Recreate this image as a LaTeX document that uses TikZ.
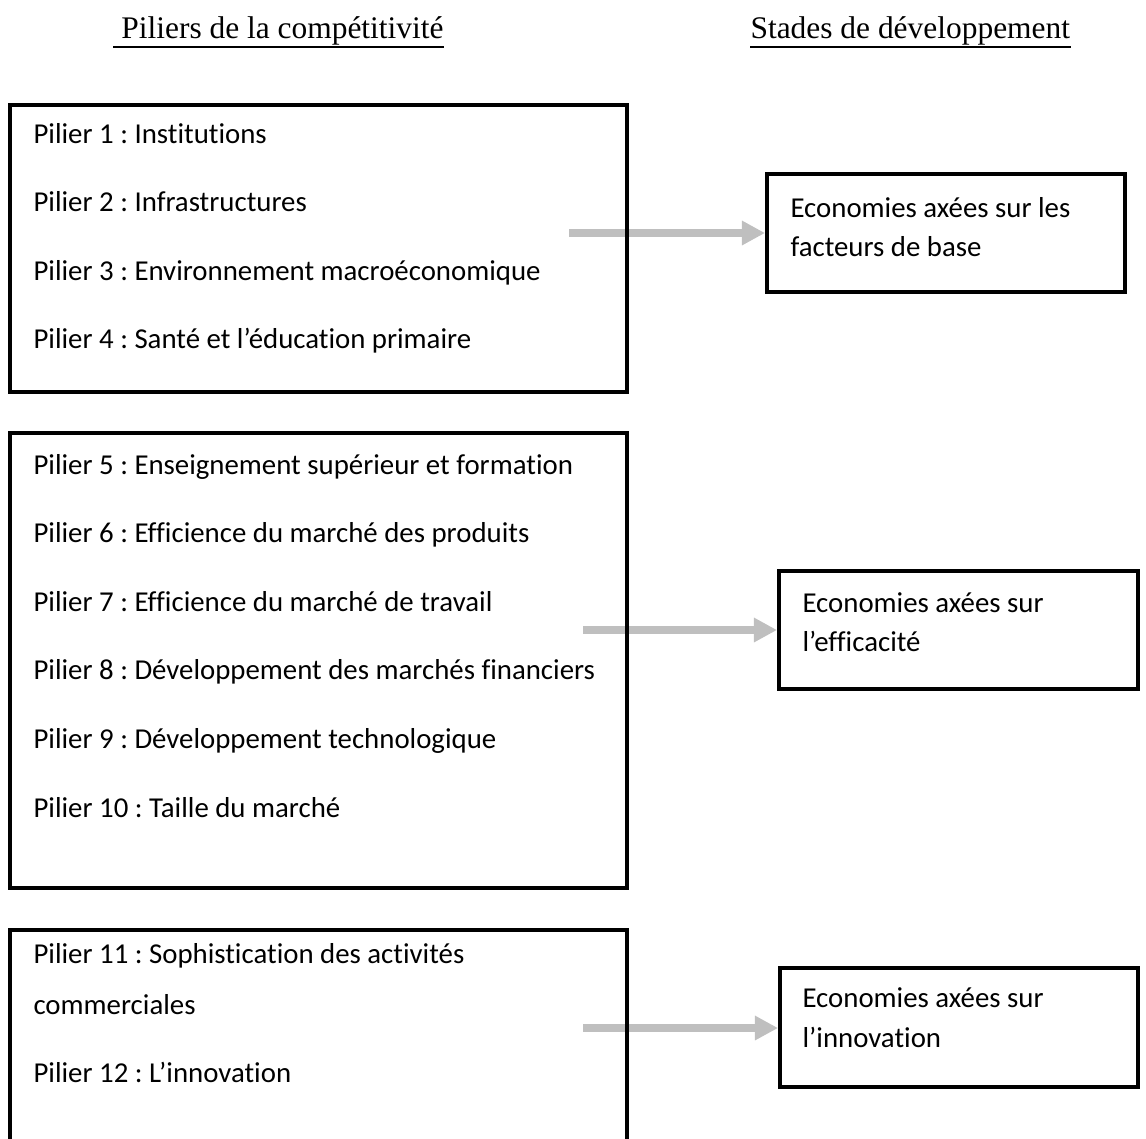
\documentclass[tikz,border=0pt]{standalone}
\usepackage{fontspec}
\setmainfont{Carlito}[Ligatures=CommonOff]
\newfontfamily\titlefont{Liberation Serif}
\usetikzlibrary{arrows.meta,fit}
\definecolor{arrowgray}{RGB}{191,191,191}
\frenchspacing
\begin{document}
\begin{tikzpicture}[x=0.3817pt,y=-0.3817pt,
  frame/.style={draw=black,line width=1.5pt,inner sep=0pt},
  item/.style={anchor=base west,inner sep=0pt,font=\fontsize{11}{13}\selectfont},
  heading/.style={anchor=base west,inner sep=0pt,font=\titlefont\fontsize{12}{14}\selectfont},
  uline/.style={line width=0.7pt},
  flow/.style={draw=arrowgray,line width=2.7pt,-{Triangle[length=8.8pt,width=8.8pt,fill=arrowgray]}}]

\path[use as bounding box,clip] (0,0) rectangle (1146,1138);

% column headings
\node[heading] (t1) at (113,38) {\ Piliers de la compétitivité};
\node[heading] (t2) at (750,38) {Stades de développement};
\draw[uline] ([yshift=-0.8pt]t1.south west) -- ([yshift=-0.8pt]t1.south east);
\draw[uline] ([yshift=-0.8pt]t2.south west) -- ([yshift=-0.8pt]t2.south east);

% arrow start points inside the pillar groups
\coordinate (a1) at (569,233);
\coordinate (a2) at (583,630);
\coordinate (a3) at (583,1028);

% stage boxes
\node[frame,fit={(767,174) (1125,292)}] (r1) {};
\node[frame,fit={(779,571) (1138,689)}] (r2) {};
\node[frame,fit={(780,968) (1138,1087)}] (r3) {};

\node[item] (r1a) at (790,217) {Economies axées sur les};
\node[item] (r1b) at (790,256) {facteurs de base};
\node[item] (r2a) at (802,612) {Economies axées sur};
\node[item] (r2b) at (802,651) {l’efficacité};
\node[item] (r3a) at (802,1007) {Economies axées sur};
\node[item] (r3b) at (802,1047) {l’innovation};

% arrows from pillar groups to stages
\draw[flow] (a1) -- (a1 -| r1.west);
\draw[flow] (a2) -- (a2 -| r2.west);
\draw[flow] (a3) -- (a3 -| r3.west);

% pillar groups
\node[frame,fit={(10,105) (627,392)}] (g1) {};
\node[frame,fit={(10,433) (627,888)}] (g2) {};
\node[frame,fit={(10,930) (627,1170)}] (g3) {};

\node[item] (p1) at (33,143) {Pilier 1 : Institutions};
\node[item] (p2) at (33,211.6) {Pilier 2 : Infrastructures};
\node[item] (p3) at (33,280.2) {Pilier 3 : Environnement macroéconomique};
\node[item] (p4) at (33,348.8) {Pilier 4 : Santé et l’éducation primaire};

\node[item] (p5) at (33,474) {Pilier 5 : Enseignement supérieur et formation};
\node[item] (p6) at (33,542.6) {Pilier 6 : Efficience du marché des produits};
\node[item] (p7) at (33,611.2) {Pilier 7 : Efficience du marché de travail};
\node[item] (p8) at (33,679.8) {Pilier 8 : Développement des marchés financiers};
\node[item] (p9) at (33,748.4) {Pilier 9 : Développement technologique};
\node[item] (p10) at (33,817) {Pilier 10 : Taille du marché};

\node[item] (p11) at (33,963) {Pilier 11 : Sophistication des activités};
\node[item] (p11b) at (33,1014) {commerciales};
\node[item] (p12) at (33,1082) {Pilier 12 : L’innovation};
\end{tikzpicture}
\end{document}
